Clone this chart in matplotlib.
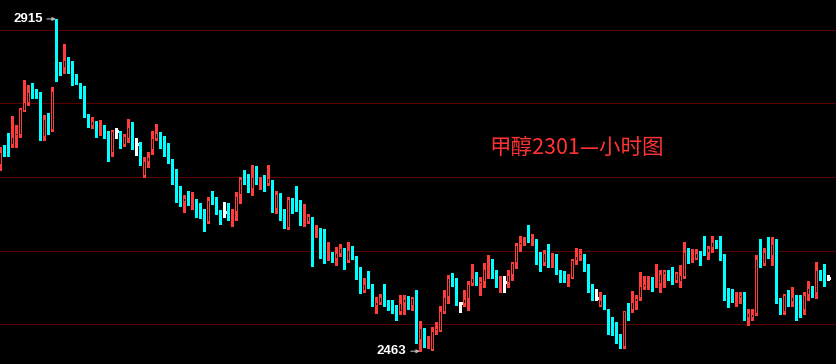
import numpy as np
import matplotlib
matplotlib.use('Agg')
import matplotlib.pyplot as plt

# hourly OHLC, methanol 2301
opens = [2716, 2736, 2756, 2744, 2756, 2757, 2790, 2801, 2828, 2814,
         2808, 2755, 2778, 2764, 2915, 2854, 2848, 2858, 2849, 2837,
         2824, 2822, 2783, 2769, 2774, 2766, 2768, 2757, 2733, 2763,
         2758, 2744, 2752, 2766, 2745, 2745, 2701, 2721, 2737, 2752,
         2760, 2750, 2730, 2722, 2699, 2673, 2666, 2670, 2661, 2662,
         2654, 2653, 2639, 2669, 2659, 2655, 2653, 2654, 2649, 2653,
         2676, 2696, 2703, 2684, 2700, 2698, 2700, 2690, 2691, 2656,
         2677, 2645, 2630, 2670, 2669, 2665, 2638, 2639, 2643, 2625,
         2627, 2625, 2591, 2594, 2589, 2595, 2598, 2586, 2601, 2592,
         2571, 2545, 2555, 2554, 2525, 2528, 2545, 2528, 2523, 2521,
         2517, 2528, 2538, 2525, 2535, 2478, 2493, 2474, 2465, 2490,
         2491, 2517, 2537, 2564, 2562, 2528, 2527, 2534, 2555, 2563,
         2554, 2557, 2575, 2577, 2569, 2552, 2557, 2556, 2566, 2583,
         2607, 2611, 2626, 2617, 2616, 2585, 2583, 2597, 2583, 2586,
         2574, 2567, 2562, 2563, 2586, 2592, 2584, 2576, 2548, 2536,
         2525, 2531, 2518, 2500, 2493, 2486, 2469, 2518, 2519, 2530,
         2536, 2551, 2559, 2561, 2552, 2555, 2566, 2572, 2565, 2559,
         2557, 2564, 2598, 2594, 2589, 2597, 2601, 2597, 2604, 2611,
         2611, 2589, 2541, 2540, 2532, 2536, 2535, 2508, 2508, 2514,
         2589, 2582, 2598, 2592, 2615, 2533, 2517, 2540, 2530, 2538,
         2530, 2519, 2540, 2549, 2542, 2574, 2569, 2562]
highs = [2741, 2744, 2760, 2783, 2771, 2794, 2832, 2825, 2828, 2820,
         2816, 2784, 2787, 2822, 2915, 2856, 2881, 2863, 2858, 2840,
         2828, 2824, 2786, 2781, 2776, 2778, 2771, 2762, 2764, 2767,
         2763, 2758, 2779, 2775, 2753, 2748, 2727, 2734, 2763, 2772,
         2761, 2756, 2746, 2725, 2711, 2688, 2676, 2681, 2680, 2670,
         2664, 2656, 2673, 2681, 2673, 2655, 2666, 2665, 2657, 2679,
         2700, 2710, 2704, 2716, 2715, 2700, 2703, 2716, 2696, 2681,
         2678, 2657, 2673, 2671, 2688, 2669, 2663, 2650, 2646, 2635,
         2631, 2629, 2611, 2598, 2605, 2609, 2603, 2612, 2606, 2593,
         2578, 2562, 2572, 2555, 2537, 2541, 2554, 2533, 2533, 2526,
         2540, 2540, 2538, 2537, 2546, 2504, 2494, 2484, 2496, 2503,
         2525, 2546, 2567, 2569, 2563, 2530, 2546, 2558, 2582, 2571,
         2564, 2583, 2594, 2588, 2574, 2565, 2565, 2573, 2585, 2610,
         2620, 2619, 2635, 2623, 2616, 2598, 2601, 2609, 2596, 2595,
         2574, 2572, 2568, 2589, 2604, 2602, 2595, 2582, 2554, 2548,
         2543, 2540, 2521, 2509, 2503, 2487, 2518, 2528, 2545, 2540,
         2571, 2565, 2565, 2564, 2582, 2574, 2574, 2573, 2577, 2571,
         2580, 2611, 2604, 2602, 2602, 2599, 2620, 2606, 2620, 2614,
         2620, 2595, 2549, 2548, 2543, 2543, 2543, 2521, 2521, 2594,
         2615, 2604, 2618, 2618, 2616, 2536, 2541, 2546, 2550, 2540,
         2540, 2543, 2558, 2552, 2585, 2574, 2582, 2566]
lows = [2710, 2728, 2728, 2741, 2741, 2755, 2790, 2798, 2808, 2807,
        2751, 2751, 2758, 2763, 2831, 2839, 2841, 2841, 2825, 2827,
        2808, 2781, 2768, 2766, 2755, 2757, 2753, 2722, 2728, 2753,
        2739, 2742, 2748, 2738, 2730, 2717, 2700, 2714, 2731, 2750,
        2739, 2729, 2719, 2691, 2666, 2660, 2653, 2662, 2656, 2646,
        2644, 2626, 2638, 2663, 2649, 2636, 2646, 2642, 2634, 2641,
        2664, 2691, 2680, 2676, 2691, 2684, 2681, 2689, 2653, 2651,
        2642, 2630, 2629, 2651, 2654, 2635, 2634, 2638, 2579, 2619,
        2590, 2583, 2587, 2585, 2580, 2593, 2575, 2585, 2589, 2561,
        2542, 2544, 2549, 2524, 2515, 2527, 2524, 2519, 2515, 2505,
        2513, 2513, 2521, 2519, 2474, 2463, 2469, 2467, 2464, 2486,
        2490, 2515, 2528, 2552, 2526, 2517, 2524, 2519, 2553, 2553,
        2540, 2550, 2563, 2563, 2550, 2544, 2543, 2550, 2560, 2576,
        2600, 2607, 2612, 2607, 2581, 2572, 2580, 2577, 2578, 2568,
        2557, 2557, 2552, 2562, 2581, 2587, 2572, 2544, 2532, 2533,
        2524, 2520, 2487, 2485, 2474, 2468, 2468, 2506, 2517, 2520,
        2532, 2547, 2547, 2545, 2551, 2543, 2550, 2560, 2554, 2557,
        2550, 2563, 2583, 2585, 2588, 2580, 2594, 2589, 2598, 2604,
        2587, 2532, 2523, 2530, 2524, 2528, 2505, 2499, 2505, 2512,
        2578, 2580, 2590, 2580, 2529, 2514, 2514, 2524, 2524, 2506,
        2509, 2514, 2532, 2537, 2536, 2560, 2552, 2560]
closes = [2734, 2733, 2742, 2754, 2760, 2793, 2802, 2816, 2815, 2811,
          2755, 2779, 2763, 2817, 2852, 2849, 2859, 2847, 2836, 2832,
          2822, 2782, 2769, 2776, 2764, 2768, 2755, 2733, 2763, 2763,
          2744, 2756, 2768, 2744, 2745, 2721, 2722, 2727, 2753, 2760,
          2749, 2732, 2721, 2695, 2670, 2668, 2672, 2666, 2663, 2655,
          2650, 2641, 2669, 2666, 2653, 2645, 2653, 2648, 2653, 2674,
          2697, 2691, 2684, 2700, 2696, 2700, 2689, 2698, 2656, 2677,
          2643, 2631, 2670, 2663, 2663, 2639, 2640, 2647, 2624, 2627,
          2622, 2590, 2594, 2587, 2597, 2603, 2586, 2601, 2591, 2562,
          2544, 2555, 2552, 2525, 2530, 2537, 2527, 2523, 2519, 2517,
          2528, 2534, 2524, 2535, 2478, 2494, 2471, 2476, 2491, 2494,
          2518, 2537, 2563, 2554, 2527, 2528, 2534, 2555, 2562, 2560,
          2559, 2575, 2577, 2568, 2551, 2554, 2557, 2567, 2583, 2607,
          2612, 2613, 2617, 2620, 2583, 2583, 2596, 2585, 2586, 2570,
          2564, 2563, 2565, 2587, 2593, 2597, 2574, 2546, 2535, 2536,
          2533, 2522, 2498, 2493, 2485, 2470, 2518, 2517, 2530, 2536,
          2552, 2555, 2561, 2548, 2555, 2568, 2572, 2570, 2560, 2570,
          2567, 2598, 2593, 2596, 2596, 2594, 2596, 2604, 2611, 2609,
          2587, 2540, 2538, 2532, 2536, 2540, 2508, 2515, 2514, 2589,
          2582, 2598, 2592, 2609, 2531, 2517, 2540, 2532, 2537, 2508,
          2519, 2540, 2549, 2541, 2574, 2567, 2561, 2562]
grid_levels = [2500, 2600, 2700, 2800, 2900]
title = '甲醇2301—小时图'

o = np.array(opens, dtype=float)
h = np.array(highs, dtype=float)
l = np.array(lows, dtype=float)
c = np.array(closes, dtype=float)
idx = np.arange(len(o))

up = c > o
down = c < o
flat = c == o

UP_COL = '#ff3c3c'
DN_COL = '#00ffff'

fig = plt.figure(figsize=(8.36, 3.64), dpi=100, facecolor='black')
ax = fig.add_axes([0, 0, 1, 1])
ax.set_facecolor('black')

# price grid, fine dotted dark red
for lv in grid_levels:
    ax.axhline(lv, color='#b40000', lw=0.72, linestyle=(0, (1, 1)), zorder=1)

px = 1.3605  # price units per pixel
cw = 0.75    # candle body width (3 px)

# wicks
ax.vlines(idx[up], l[up], h[up], color=UP_COL, lw=0.8, zorder=2, antialiased=False)
ax.vlines(idx[down], l[down], h[down], color=DN_COL, lw=0.8, zorder=2, antialiased=False)
ax.vlines(idx[flat], l[flat], h[flat], color='white', lw=0.8, zorder=2, antialiased=False)

# down bodies: filled
dn_h = np.maximum(o[down] - c[down], px)
ax.bar(idx[down], dn_h, bottom=c[down], width=cw, color=DN_COL,
       edgecolor='none', zorder=3, antialiased=False)

# up bodies: hollow (red block with a black core)
up_h = np.maximum(c[up] - o[up], px)
ax.bar(idx[up], up_h, bottom=o[up], width=cw, color=UP_COL,
       edgecolor='none', zorder=3, antialiased=False)
core = up_h > 2.5 * px
ax.bar(idx[up][core], up_h[core] - 2 * px, bottom=o[up][core] + px,
       width=cw / 3, color='black', edgecolor='none', zorder=4,
       antialiased=False)

# doji
ax.hlines(c[flat], idx[flat] - 0.38, idx[flat] + 0.38, color='white', lw=0.8,
          zorder=3, antialiased=False)

ax.set_xlim(-0.08, len(o) + 0.92)
ax.set_ylim(2445.6, 2940.8)
ax.axis('off')

# extreme labels
imax = int(np.argmax(h))
imin = int(np.argmin(l))
arrow = dict(arrowstyle='-|>', color='#b8b8b8', lw=0.8, mutation_scale=5,
             shrinkA=1, shrinkB=0)
ax.annotate(f'{int(h[imax])}', xy=(imax - 0.1, h[imax]), xytext=(-9.5, 0),
            textcoords='offset points', ha='right', va='center',
            color='white', fontsize=9.5, fontweight='bold',
            family='Liberation Sans', arrowprops=arrow, zorder=5)
ax.annotate(f'{int(l[imin])}', xy=(imin - 0.1, l[imin]), xytext=(-9.5, 0),
            textcoords='offset points', ha='right', va='center',
            color='white', fontsize=9.5, fontweight='bold',
            family='Liberation Sans', arrowprops=arrow, zorder=5)

ax.text(489 / 836, 1 - 148 / 364, title, transform=ax.transAxes,
        ha='left', va='center', color='#ff3333', fontsize=15.5,
        family=['Noto Sans CJK SC', 'DejaVu Sans'])

fig.savefig('out.png', dpi=100, facecolor='black')
